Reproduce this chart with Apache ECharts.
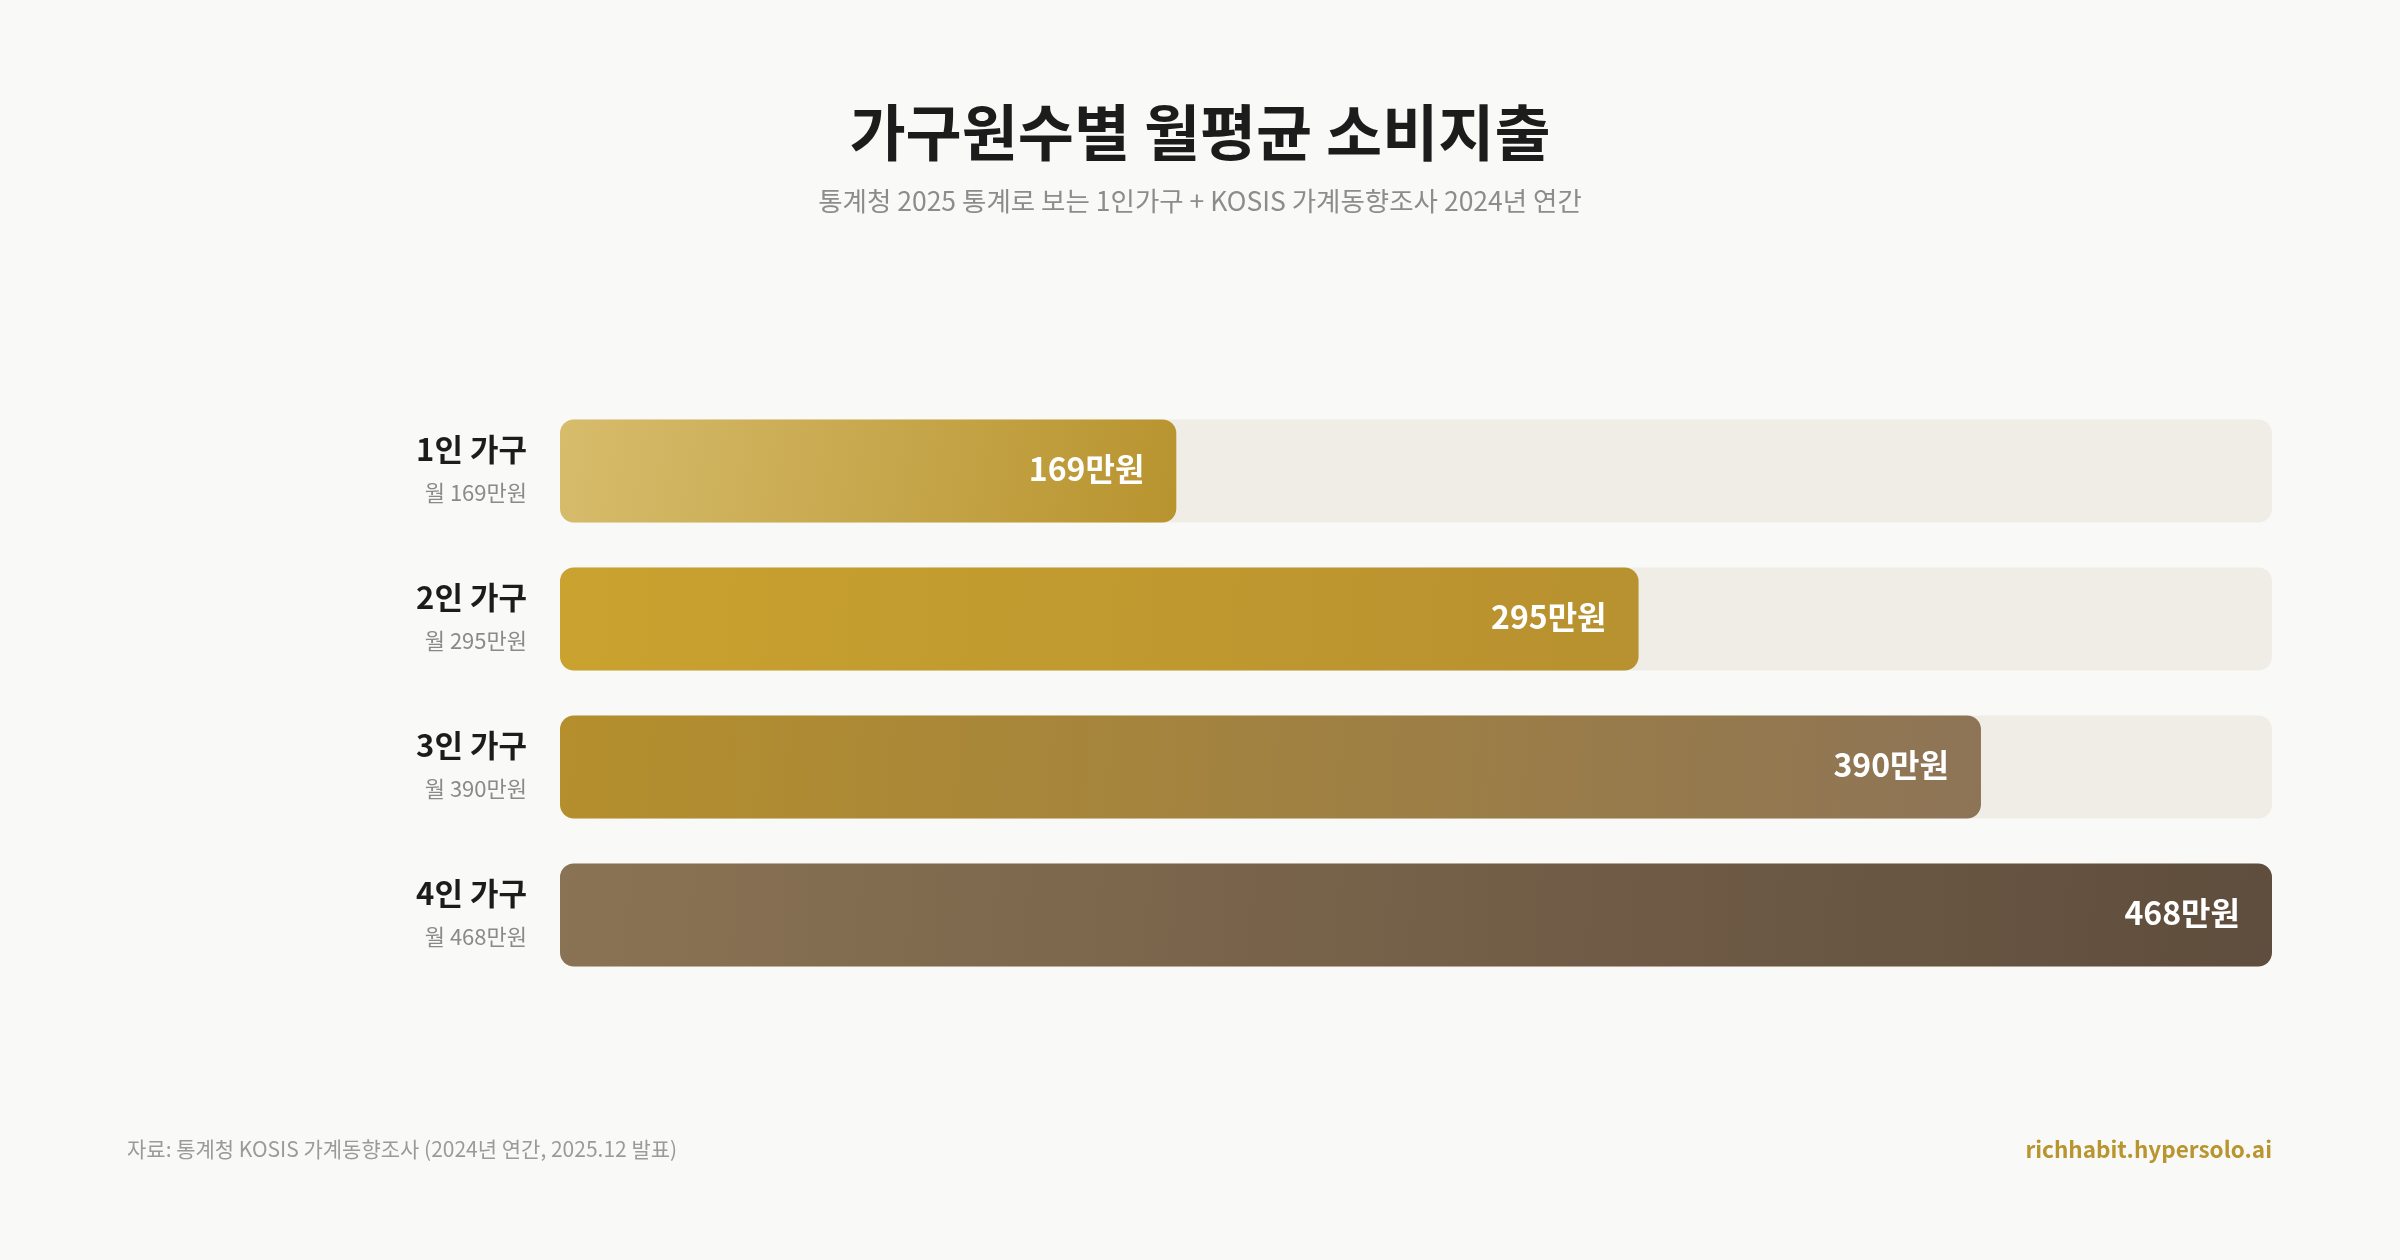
<!DOCTYPE html>
<html>
<head>
<meta charset="utf-8">
<script src="https://cdn.jsdelivr.net/npm/echarts@6/dist/echarts.min.js"></script>
<style>
  html, body { margin: 0; padding: 0; background: #f9f9f7; }
  #chart { width: 2400px; height: 1260px; }
</style>
</head>
<body>
<div id="chart"></div>
<script>
// 가구원수별 월평균 소비지출 (만원)
const categories = ["1인 가구", "2인 가구", "3인 가구", "4인 가구"];
const spending = [169, 295, 390, 468];
// 막대별 그라데이션 (왼쪽 위 -> 오른쪽 아래)
const barColors = [
  ["#d7bc6c", "#b8942f"],
  ["#c9a22f", "#b89130"],
  ["#b58f2c", "#8d7456"],
  ["#8a7354", "#5f4d3d"]
];

const font = "'Noto Sans CJK KR', 'Noto Sans', sans-serif";

// 막대 길이는 최대값 대비 비율(%) 반올림
const maxSpend = Math.max.apply(null, spending);

let chart = echarts.init(document.getElementById("chart"));
let option = {
  backgroundColor: "#f9f9f7",
  textStyle: { fontFamily: font },
  title: [
    {
      text: "가구원수별 월평균 소비지출",
      subtext: "통계청 2025 통계로 보는 1인가구 + KOSIS 가계동향조사 2024년 연간",
      left: "center",
      top: 92,
      itemGap: 16,
      textStyle: { fontFamily: font, fontSize: 61, fontWeight: "bold", color: "#1c1c1c", lineHeight: 72 },
      subtextStyle: { fontFamily: font, fontSize: 26.5, color: "#8c8c8c", lineHeight: 32 }
    },
    {
      text: "자료: 통계청 KOSIS 가계동향조사 (2024년 연간, 2025.12 발표)",
      left: 122,
      top: 1130,
      textStyle: { fontFamily: font, fontSize: 21, fontWeight: "normal", color: "#9a9a9a", lineHeight: 28 }
    },
    {
      text: "richhabit.hypersolo.ai",
      right: 123,
      top: 1130,
      textStyle: { fontFamily: font, fontSize: 22.5, fontWeight: "bold", color: "#b8952f", lineHeight: 28 }
    }
  ],
  grid: {
    left: 560,
    right: 128,
    top: 397,
    bottom: 271,
    containLabel: false
  },
  xAxis: {
    type: "value",
    min: 0,
    max: 100,
    show: false
  },
  yAxis: {
    type: "category",
    data: categories,
    inverse: true,
    axisLine: { show: false },
    axisTick: { show: false },
    splitLine: { show: false },
    axisLabel: {
      margin: 33,
      align: "right",
      formatter: function (value, idx) {
        return "{a|" + value + "}\n{b|월 " + spending[idx] + "만원}";
      },
      rich: {
        a: { fontFamily: font, fontSize: 31, fontWeight: "bold", color: "#1c1c1c", lineHeight: 44, align: "right" },
        b: { fontFamily: font, fontSize: 22, color: "#8a8a8a", lineHeight: 44, align: "right" }
      }
    }
  },
  series: [
    {
      type: "bar",
      barWidth: 103,
      showBackground: true,
      backgroundStyle: { color: "#f0ede6", borderRadius: 14 },
      data: spending.map(function (v, i) {
        return {
          value: Math.round(v / maxSpend * 100),
          amount: v,
          itemStyle: {
            borderRadius: 14,
            color: new echarts.graphic.LinearGradient(0, 0, 1, 1, [
              { offset: 0, color: barColors[i][0] },
              { offset: 1, color: barColors[i][1] }
            ])
          }
        };
      }),
      label: {
        show: true,
        position: "insideRight",
        distance: 32,
        offset: [0, -2],
        formatter: function (p) { return spending[p.dataIndex] + "만원"; },
        fontFamily: font,
        fontSize: 32,
        fontWeight: "bold",
        color: "#ffffff"
      },
      animation: false
    }
  ]
};
chart.setOption(option);
window.addEventListener("resize", function () { chart.resize(); });
</script>
</body>
</html>
